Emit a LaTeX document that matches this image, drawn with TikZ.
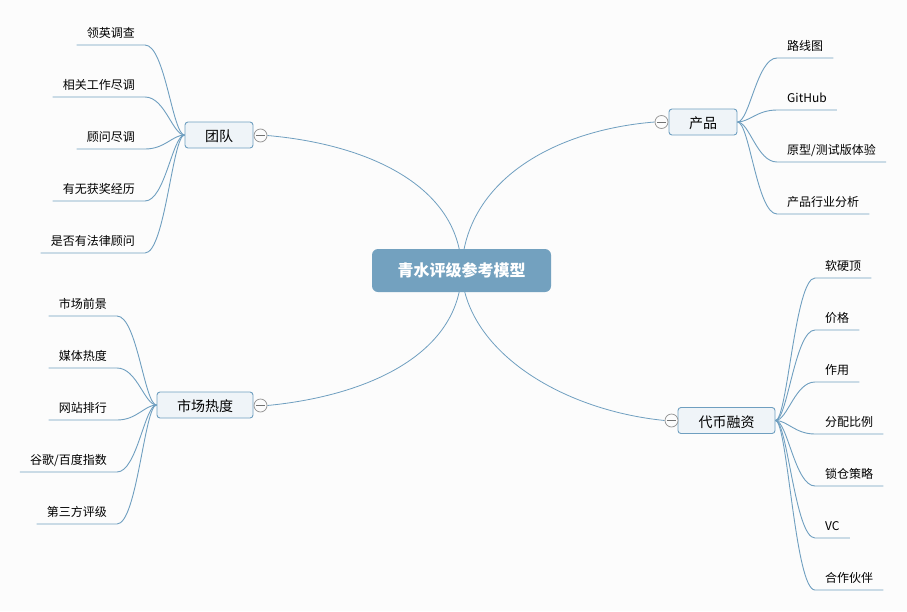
\documentclass[tikz,border=0pt]{standalone}
\usepackage{fontspec}
\usetikzlibrary{backgrounds}
\setmainfont{Noto Sans CJK SC}
\definecolor{pagebg}{HTML}{FCFCFC}
\definecolor{rootfill}{HTML}{73A1BF}
\definecolor{hubfill}{HTML}{EFF4F8}
\definecolor{linecol}{HTML}{6F9FC0}

\begin{document}
\begin{tikzpicture}[
    x = 1pt, y = -1pt,
    root/.style = {shape = rectangle, rounded corners = 6pt, fill = rootfill, text = white, font = \fontsize{16}{16}\selectfont\bfseries, minimum width = 179pt, minimum height = 43pt, inner sep = 0pt},
    hub/.style = {shape = rectangle, rounded corners = 3pt, draw = linecol, line width = 0.9pt, fill = hubfill, font = \fontsize{14}{14}\selectfont, text height = 13pt, text depth = 0pt, minimum height = 26pt, inner sep = 0pt},
    knob/.style = {shape = circle, draw = gray!80, line width = 0.8pt, fill = pagebg, minimum size = 13pt, inner sep = 0pt, path picture = {\draw[gray!90!black, shorten > = 2pt, shorten < = 2pt] (path picture bounding box.west) -- (path picture bounding box.east);}},
    leaf/.style = {font = \fontsize{12}{12}\selectfont, text height = 11pt, text depth = 1pt, inner xsep = 10pt, inner ysep = 6pt},
    main/.style = {draw = linecol, line width = 0.8pt},
    branch/.style = {draw = linecol, line width = 0.9pt},
    twigl/.style = {to path = {.. controls +(-12,0) and +(20,0) .. (\tikztotarget)}},
    twigr/.style = {to path = {.. controls +(12,0) and +(-20,0) .. (\tikztotarget)}},
    ]
    \useasboundingbox (0, 0) rectangle (907, 611);

    \node[root] (R) at (461.5, 270.5) {青水评级参考模型};

    \node[hub, minimum width = 68pt] (T) at (219, 135) {团队};
    \node[hub, minimum width = 68pt] (P) at (703, 122) {产品};
    \node[hub, minimum width = 96pt] (M) at (205, 405) {市场热度};
    \node[hub, minimum width = 97pt] (C) at (726.5, 420.5) {代币融资};

    \node[knob] (KT) at (260.5, 135.5) {};
    \node[knob] (KP) at (661.5, 122) {};
    \node[knob] (KM) at (260.5, 405.5) {};
    \node[knob] (KC) at (671.5, 420.5) {};

    \begin{pgfonlayer}{background}
    \fill[pagebg] (0, 0) rectangle (907, 611);
    \draw[main] (R.center) .. controls (461, 190) and (375, 145) .. (KT.east);
    \draw[main] (R.center) .. controls (465, 180) and (555, 130) .. (KP.west);
    \draw[main] (R.center) .. controls (461, 350) and (375, 395) .. (KM.east);
    \draw[main] (R.center) .. controls (465, 350) and (560, 410) .. (KC.west);
    \end{pgfonlayer}

    \node[leaf, anchor = south east] (T1) at (145, 45) {领英调查};
    \node[leaf, anchor = south east] (T2) at (145, 97) {相关工作尽调};
    \node[leaf, anchor = south east] (T3) at (145, 149) {顾问尽调};
    \node[leaf, anchor = south east] (T4) at (145, 201) {有无获奖经历};
    \node[leaf, anchor = south east] (T5) at (145, 253) {是否有法律顾问};

    \draw[branch] (T.west) to[twigl] (T1.south east) -- (T1.south west);
    \draw[branch] (T.west) to[twigl] (T2.south east) -- (T2.south west);
    \draw[branch] (T.west) to[twigl] (T3.south east) -- (T3.south west);
    \draw[branch] (T.west) to[twigl] (T4.south east) -- (T4.south west);
    \draw[branch] (T.west) to[twigl] (T5.south east) -- (T5.south west);

    \node[leaf, anchor = south east] (M1) at (117, 316) {市场前景};
    \node[leaf, anchor = south east] (M2) at (117, 368) {媒体热度};
    \node[leaf, anchor = south east] (M3) at (117, 420) {网站排行};
    \node[leaf, anchor = south east] (M4) at (117, 472) {谷歌/百度指数};
    \node[leaf, anchor = south east] (M5) at (117, 524) {第三方评级};

    \draw[branch] (M.west) to[twigl] (M1.south east) -- (M1.south west);
    \draw[branch] (M.west) to[twigl] (M2.south east) -- (M2.south west);
    \draw[branch] (M.west) to[twigl] (M3.south east) -- (M3.south west);
    \draw[branch] (M.west) to[twigl] (M4.south east) -- (M4.south west);
    \draw[branch] (M.west) to[twigl] (M5.south east) -- (M5.south west);

    \node[leaf, anchor = south west] (P1) at (777, 58) {路线图};
    \node[leaf, anchor = south west] (P2) at (777, 110) {GitHub};
    \node[leaf, anchor = south west] (P3) at (777, 162) {原型/测试版体验};
    \node[leaf, anchor = south west] (P4) at (777, 214) {产品行业分析};

    \draw[branch] (P.east) to[twigr] (P1.south west) -- (P1.south east);
    \draw[branch] (P.east) to[twigr] (P2.south west) -- (P2.south east);
    \draw[branch] (P.east) to[twigr] (P3.south west) -- (P3.south east);
    \draw[branch] (P.east) to[twigr] (P4.south west) -- (P4.south east);

    \node[leaf, anchor = south west] (C1) at (815, 278) {软硬顶};
    \node[leaf, anchor = south west] (C2) at (815, 330) {价格};
    \node[leaf, anchor = south west] (C3) at (815, 382) {作用};
    \node[leaf, anchor = south west] (C4) at (815, 434) {分配比例};
    \node[leaf, anchor = south west] (C5) at (815, 486) {锁仓策略};
    \node[leaf, anchor = south west] (C6) at (815, 538) {VC};
    \node[leaf, anchor = south west] (C7) at (815, 590) {合作伙伴};

    \draw[branch] (C.east) to[twigr] (C1.south west) -- (C1.south east);
    \draw[branch] (C.east) to[twigr] (C2.south west) -- (C2.south east);
    \draw[branch] (C.east) to[twigr] (C3.south west) -- (C3.south east);
    \draw[branch] (C.east) to[twigr] (C4.south west) -- (C4.south east);
    \draw[branch] (C.east) to[twigr] (C5.south west) -- (C5.south east);
    \draw[branch] (C.east) to[twigr] (C6.south west) -- (C6.south east);
    \draw[branch] (C.east) to[twigr] (C7.south west) -- (C7.south east);
\end{tikzpicture}
\end{document}
